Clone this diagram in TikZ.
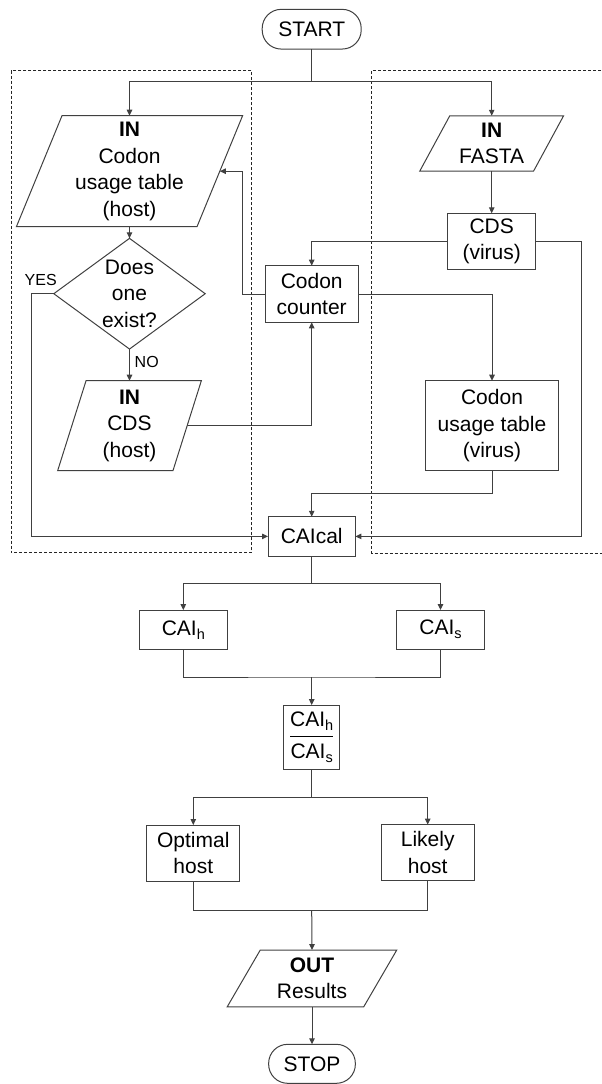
\documentclass[tikz,border=0pt]{standalone}
\usepackage{fontspec}
\setmainfont{Liberation Sans}
\usetikzlibrary{shapes.geometric,arrows.meta}
\definecolor{edge}{HTML}{404040}
% lowered, smaller index letter after "CAI"
\newcommand\lowidx[1]{\raisebox{-4pt}{\fontsize{14.5}{14.5}\selectfont #1}}
% parallelogram drawn round a plain node: node name, horizontal slant
\newcommand\ioframe[2]{%
  \draw[edge, line width=1pt, line join=miter]
    ([xshift=#2pt/2]#1.north west) -- ([xshift=#2pt/2]#1.north east)
    -- ([xshift=-#2pt/2]#1.south east) -- ([xshift=-#2pt/2]#1.south west) -- cycle;}
\begin{document}
\begin{tikzpicture}[x=1pt,y=-1pt,
  every node/.style={font=\fontsize{21}{26.5}\selectfont, inner sep=2pt,
    outer sep=0pt, align=center, text=black},
  procbox/.style={draw=edge, line width=1pt, rectangle},
  term/.style={draw=edge, line width=1pt, rounded corners=19pt},
  iotext/.style={rectangle},
  decision/.style={draw=edge, line width=1pt, diamond, inner sep=0pt, aspect=1.37},
  tag/.style={font=\fontsize{16}{18}\selectfont},
  link/.style={draw=edge, line width=1pt},
  flow/.style={draw=edge, line width=1pt, -{Triangle[length=6pt,width=5.5pt]}},
  group/.style={draw=black!85, line width=0.8pt, dash pattern=on 3pt off 2pt}]
\useasboundingbox (0,0) rectangle (602,1084);

% dashed groups
\draw[group] (11,70.7) rectangle (251.7,552.7);
\draw[group] (606,70.5) -- (371.7,70.5) -- (371.7,553.3) -- (606,553.3);

% nodes
\node[term, minimum width=99pt, minimum height=39.7pt] (start) at (311.7,29.2) {START};
\node[iotext, minimum width=180.6pt, minimum height=111pt] (host) at (129.5,171.2)
  {\textbf{IN}\\Codon\\usage table\\(host)};
\ioframe{host}{45.6}
\node[iotext, minimum width=113.8pt, minimum height=55.3pt] (fasta) at (491.7,143.4)
  {\textbf{IN}\\FASTA};
\ioframe{fasta}{30}
\node[procbox, minimum width=88pt, minimum height=56pt] (cdsv) at (491.7,241.3) {CDS\\(virus)};
\node[decision, minimum width=151.4pt, minimum height=110.7pt] (exist) at (129.5,293.7)
  {Does\\one\\exist?};
\node[procbox, minimum width=93.3pt, minimum height=56.6pt] (counter) at (311.7,294)
  {Codon\\counter};
\node[iotext, minimum width=115.3pt, minimum height=90pt] (cdsh) at (129.5,425.7)
  {\textbf{IN}\\CDS\\(host)};
\ioframe{cdsh}{28.4}
\node[procbox, minimum width=132.6pt, minimum height=90pt] (tablev) at (492,425.7)
  {Codon\\usage table\\(virus)};
\node[procbox, minimum width=87.4pt, minimum height=39.3pt] (caical) at (311.7,536.4) {CAIcal};
\node[procbox, minimum width=88pt, minimum height=39.3pt] (caih) at (183.3,629.7) {CAI\lowidx{h}};
\node[procbox, minimum width=87.6pt, minimum height=39.3pt] (cais) at (440.5,629.7) {CAI\lowidx{s}};
\node[procbox, minimum width=56pt, minimum height=64.3pt] (ratio) at (311.7,737.2)
  {\begin{tabular}{@{}c@{}}CAI\lowidx{h}\\[1.5pt]\hline\noalign{\vskip 3.5pt}CAI\lowidx{s}\end{tabular}};
\node[procbox, minimum width=93.3pt, minimum height=56pt] (optimal) at (193.3,853) {Optimal\\host};
\node[procbox, minimum width=93.3pt, minimum height=56pt] (likely) at (427.7,852.6) {Likely\\host};
\node[iotext, minimum width=136.5pt, minimum height=56.7pt] (out) at (312,978.4)
  {\textbf{OUT}\\Results};
\ioframe{out}{33}
\node[term, minimum width=86.7pt, minimum height=39pt] (stop) at (312,1063.8) {STOP};

% branch labels
\node[tag] (yes) at (40.7,280) {YES};
\node[tag] (no) at (146.7,361.7) {NO};

% junction points
\coordinate (fork1) at (311.7,81.7);
\coordinate (fork2) at (311.7,583.3);
\coordinate (join1) at (311.7,677);
\coordinate (fork3) at (311.7,797.3);
\coordinate (join2) at (311.7,910.3);

% connectors
\draw[link] (start.south) -- (fork1);
\draw[flow] (fork1) -| (host.north);
\draw[flow] (fork1) -| (fasta.north);
\draw[flow] (host.south) -- (exist.north);
\draw[flow] (exist.south) -- (cdsh.north);
\draw[flow] (exist.west) -- ++(-22,0) |- (caical.west);
\draw[flow] (fasta.south) -- (cdsv.north);
\draw[flow] (cdsv.west) -| (counter.north);
\draw[flow] (cdsv.east) -- ++(46,0) |- (caical.east);
\draw[flow] (counter.west) -- ++(-22.7,0) |- (host.east);
\draw[flow] (counter.east) -| (tablev.north);
\draw[flow] (cdsh.east) -| (counter.south);
\draw[flow] (tablev.south) -- ++(0,22.6) -| (caical.north);
\draw[link] (caical.south) -- (fork2);
\draw[flow] (fork2) -| (caih.north);
\draw[flow] (fork2) -| (cais.north);
\draw[link] (caih.south) |- (join1) -| (cais.south);
\draw[flow] (join1) -- (ratio.north);
\draw[link] (ratio.south) -- (fork3);
\draw[flow] (fork3) -| (optimal.north);
\draw[flow] (fork3) -| (likely.north);
\draw[link] (optimal.south) |- (join2) -| (likely.south);
\draw[flow] (join2) -- (out.north);
\draw[flow] (out.south) -- (stop.north);
\end{tikzpicture}
\end{document}
